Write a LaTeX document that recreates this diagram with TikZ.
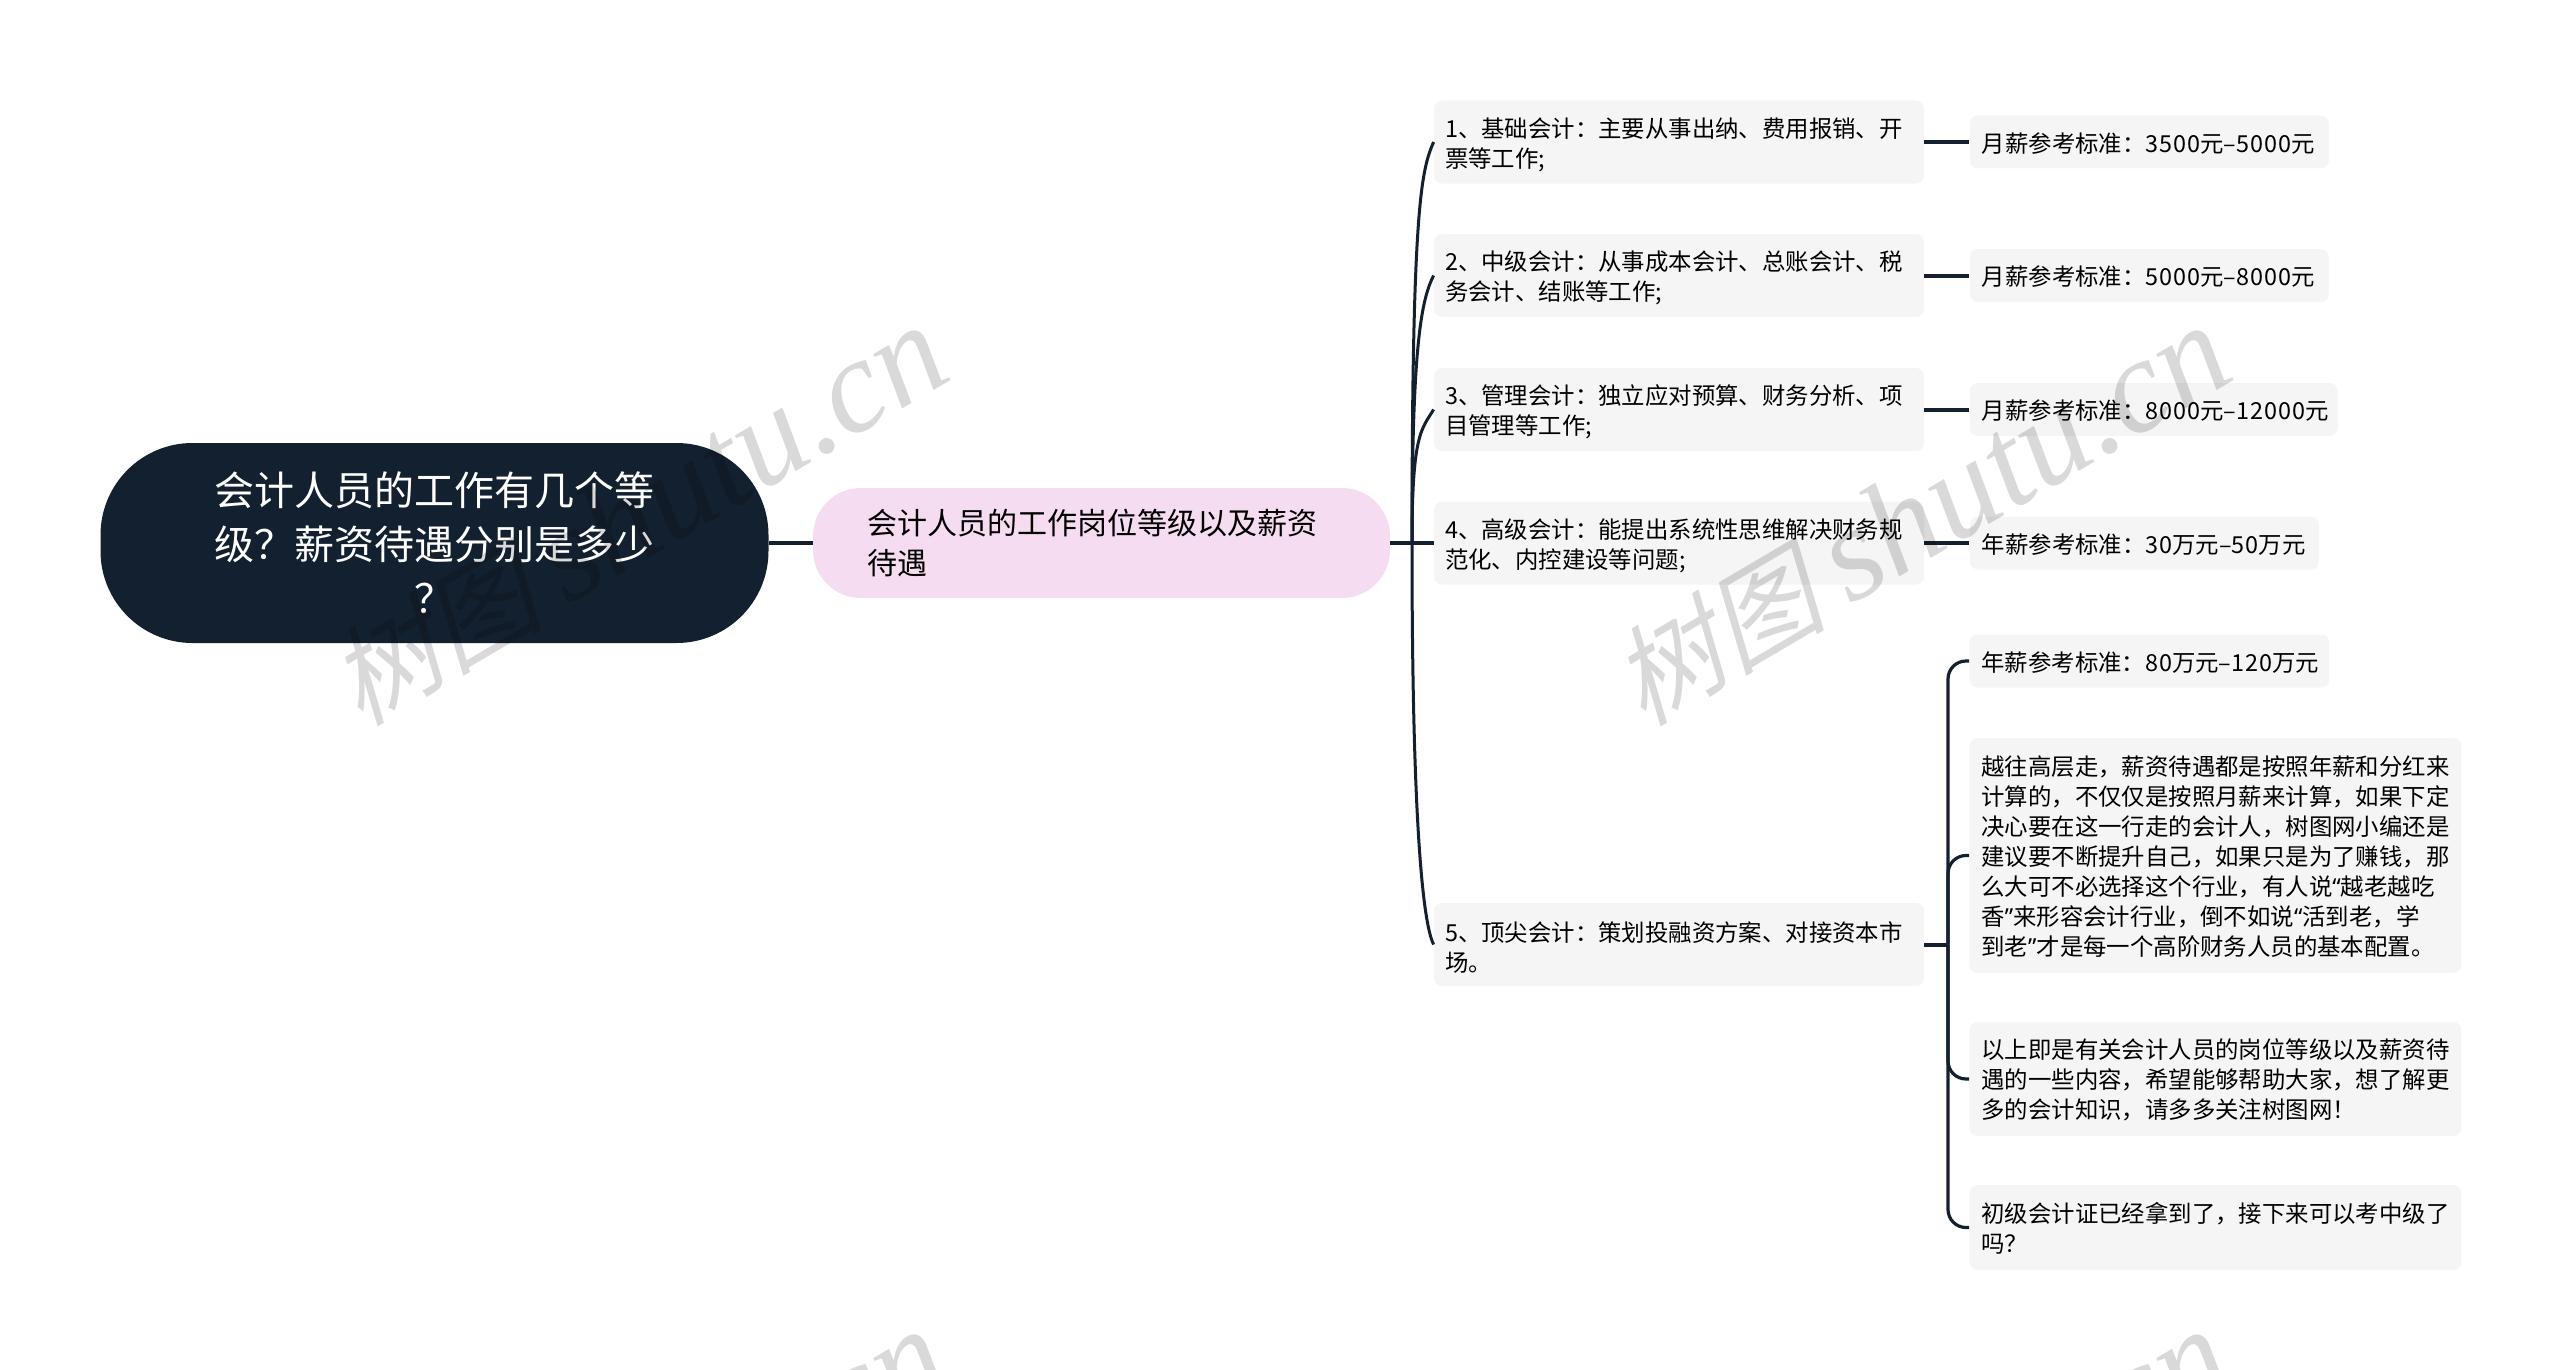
\documentclass[tikz,border=0pt]{standalone}
\usepackage{fontspec}
\setmainfont{Noto Sans CJK SC}
\newfontfamily\wmcjk[FakeSlant=0.25]{Noto Sans CJK SC}
\newfontfamily\wmlatin{Liberation Serif}
\newfontfamily\quotefont{Noto Sans}
\newcommand\dg[1]{{\addfontfeature{LetterSpace=4}#1}}
\newcommand\qt[1]{{\quotefont #1}}
\usetikzlibrary{positioning}
\definecolor{navy}{HTML}{13202F}
\definecolor{petal}{HTML}{F5DCF1}
\definecolor{paper}{HTML}{F5F5F5}
\definecolor{stamp}{HTML}{D9D9D9}
\tikzset{%
	root node/.style={
		fill=navy,
		text=white,
		rounded corners=46pt,
		minimum width=334pt,
		minimum height=100pt,
		inner xsep=57pt,
		text width=220pt,
		align=center,
		font=\fontsize{20}{27}\selectfont
	},
	sub node/.style={
		fill=petal,
		text=black,
		rounded corners=24pt,
		minimum width=288.5pt,
		minimum height=55pt,
		inner xsep=27pt,
		text width=234.5pt,
		align=left,
		font=\fontsize{15}{20}\selectfont
	},
	level node/.style={
		fill=paper,
		rounded corners=4pt,
		inner xsep=5.5pt,
		text width=234pt,
		minimum height=41.5pt,
		align=left,
		font=\fontsize{11.7}{15}\selectfont,
		execute at begin node=\rule{0pt}{12.7pt}
	},
	pay node/.style={
		fill=paper,
		rounded corners=4pt,
		inner xsep=6pt,
		text width=#1,
		minimum height=26.5pt,
		align=left,
		font=\fontsize{11.7}{15}\selectfont,
		execute at begin node=\rule{0pt}{11.2pt}
	},
	note node/.style={
		pay node=234pt,
		minimum height=#1
	},
	thick link/.style={draw=navy, line width=2pt},
	thin link/.style={draw=navy, line width=1.5pt},
	bend link/.style={draw=navy, line width=1.6pt, rounded corners=9pt},
	watermark/.style={
		text=stamp,
		rotate=30.5
	},
}
\begin{document}
\begin{tikzpicture}[x=0.5pt, y=-0.5pt]
	\useasboundingbox (0,0) rectangle (2560,1370);

	% Nodes of the map
	\node[root node] (root) at (434.5,543) {会计人员的工作有几个等\\级？薪资待遇分别是多少\\？};
	\node[sub node] (sub) at (1101.5,543) {会计人员的工作岗位等级以及薪资\\待遇};

	\node[level node] (lev1) at (1679,142) {1、基础会计：主要从事出纳、费用报销、开\\票等工作;};
	\node[level node] (lev2) at (1679,275.5) {2、中级会计：从事成本会计、总账会计、税\\务会计、结账等工作;};
	\node[level node] (lev3) at (1679,409.5) {3、管理会计：独立应对预算、财务分析、项\\目管理等工作;};
	\node[level node] (lev4) at (1679,543) {4、高级会计：能提出系统性思维解决财务规\\范化、内控建设等问题;};
	\node[level node] (lev5) at (1679,944.5) {5、顶尖会计：策划投融资方案、对接资本市\\场。};

	\node[pay node=167.5pt, right=22.5pt of lev1] (pay1) {\mbox{月薪参考标准：\dg{3500}元–\dg{5000}元}};
	\node[pay node=167.5pt, right=22.5pt of lev2] (pay2) {\mbox{月薪参考标准：\dg{5000}元–\dg{8000}元}};
	\node[pay node=172pt, right=22.5pt of lev3] (pay3) {\mbox{月薪参考标准：\dg{8000}元–\dg{12000}元}};
	\node[pay node=162.5pt, right=22.5pt of lev4] (pay4) {\mbox{年薪参考标准：\dg{30}万元–\dg{50}万元}};

	\node[pay node=168pt, anchor=west] (top1) at (1969,661) {\mbox{年薪参考标准：\dg{80}万元–\dg{120}万元}};
	\node[note node=117.5pt, anchor=west] (top2) at (1969,855.5) {越往高层走，薪资待遇都是按照年薪和分红来\\计算的，不仅仅是按照月薪来计算，如果下定\\决心要在这一行走的会计人，树图网小编还是\\建议要不断提升自己，如果只是为了赚钱，那\\么大可不必选择这个行业，有人说\qt{“}越老越吃\\香\qt{”}来形容会计行业，倒不如说\qt{“}活到老，学\\到老\qt{”}才是每一个高阶财务人员的基本配置。};
	\node[note node=57pt, anchor=west] (top3) at (1969,1079) {以上即是有关会计人员的岗位等级以及薪资待\\遇的一些内容，希望能够帮助大家，想了解更\\多的会计知识，请多多关注树图网！};
	\node[note node=42.5pt, anchor=west] (top4) at (1969,1227.5) {初级会计证已经拿到了，接下来可以考中级了\\吗？};

	% Links
	\coordinate (hub) at (1412,543);
	\coordinate (fork) at (1948,944.5);
	\draw[thick link] (root.east) -- (sub.west);
	\draw[thick link] (sub.east) -- (hub);
	\draw[thick link] (hub) -- (lev4.west);
	\draw[thick link] (lev5.east) -- (fork);
	\foreach \n/\a/\b in {lev1/-340/28, lev2/-200/24, lev3/-110/20}
		\draw[thin link] (hub) .. controls +(0,\a) and ([shift={(-12,\b)}]\n.west) .. (\n.west);
	\draw[thin link] (hub) .. controls +(0,260) and ([shift={(-12,-24)}]lev5.west) .. (lev5.west);
	\foreach \n in {1,2,3,4}
		\draw[thick link] (lev\n.east) -- (pay\n.west);
	\foreach \n in {1,2,3,4}
		\draw[bend link] (fork) |- (top\n.west);

	% Stamps laid over everything
	\begin{scope}[blend mode=multiply]
		\clip (0,0) rectangle (2560,1370);
		\foreach \n/\x/\y in {a/637/516, b/1920/516, c/637/1520, d/1920/1520}
			\node[watermark] (stamp\n) at (\x,\y) {\wmcjk\fontsize{54}{54}\selectfont 树图\ \wmlatin\itshape\fontsize{67}{67}\selectfont shutu.cn};
	\end{scope}
\end{tikzpicture}
\end{document}
